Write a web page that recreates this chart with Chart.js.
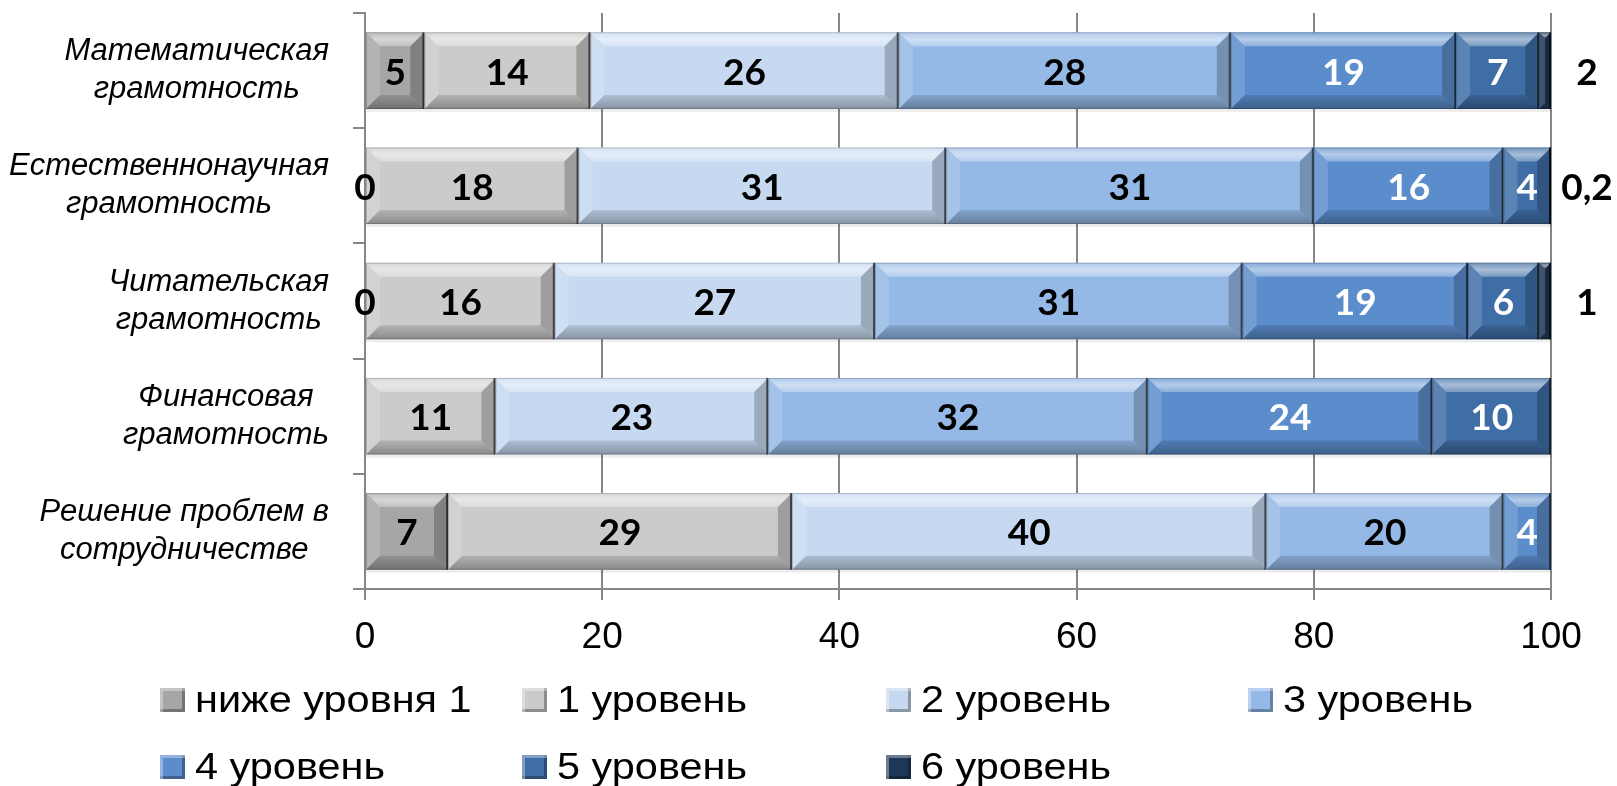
<!DOCTYPE html>
<html>
<head>
<meta charset="utf-8">
<script src="https://cdn.jsdelivr.net/npm/chart.js@4"></script>
<style>
  html, body { margin: 0; padding: 0; background: #fff; }
  #wrap { position: relative; width: 1617px; height: 786px; overflow: hidden; }
  #c { position: absolute; left: 0; top: 0; }
  .lg { position: absolute; height: 40px; width: 340px; font-family: "Liberation Sans", Arial, sans-serif; font-size: 37px; line-height: 40px; color: #000; white-space: nowrap; }
  .lg .bx { position: absolute; left: 0; top: 8px; width: 25px; height: 24px; box-shadow: inset 3px 3px 0 rgba(255,255,255,.35), inset -3px -3px 0 rgba(0,0,0,.3); }
  .lg .tx { position: absolute; left: 35px; top: 0; transform: scaleX(1.12); transform-origin: left center; }
</style>
</head>
<body>
<div id="wrap">
  <canvas id="c" width="1617" height="786"></canvas>
  <div id="legend"></div>
</div>
<script>
// ---- data ----
const categories = [
  ['Математическая', 'грамотность'],
  ['Естественнонаучная', 'грамотность'],
  ['Читательская', 'грамотность'],
  ['Финансовая', 'грамотность'],
  ['Решение проблем в', 'сотрудничестве']
];
const seriesNames = ['ниже уровня 1', '1 уровень', '2 уровень', '3 уровень', '4 уровень', '5 уровень', '6 уровень'];
const belowLevel1 = [5, 0, 0, null, 7];
const level1 = [14, 18, 16, 11, 29];
const level2 = [26, 31, 27, 23, 40];
const level3 = [28, 31, 31, 32, 20];
const level4 = [19, 16, 19, 24, 4];
const level5 = [7, 4, 6, 10, null];
const level6 = [2, 0.2, 1, null, null];
const xTickValues = [0, 20, 40, 60, 80, 100];

// ---- styles ----
const seriesColors = ['#a6a6a6', '#cbcbcb', '#c6d9f1', '#95b9e6', '#5b8dcc', '#3f6ea6', '#1e3657'];
const labelColors = ['#000', '#000', '#000', '#000', '#fff', '#fff', '#000'];
const allSeries = [belowLevel1, level1, level2, level3, level4, level5, level6];

const datasets = allSeries.map((d, i) => ({
  label: seriesNames[i],
  data: d,
  backgroundColor: seriesColors[i],
  borderWidth: 0,
  categoryPercentage: 1,
  barPercentage: 0.665
}));

const AXIS = '#868686';

const bevelPlugin = {
  id: 'bevel',
  afterDatasetsDraw(chart) {
    const ctx = chart.ctx, area = chart.chartArea;
    ctx.save();
    ctx.beginPath();
    ctx.rect(area.left, area.top - 2, area.right - area.left, area.bottom - area.top + 4);
    ctx.clip();
    chart.data.datasets.forEach((ds, i) => {
      const meta = chart.getDatasetMeta(i);
      meta.data.forEach((el, j) => {
        const v = ds.data[j];
        if (v == null || v === 0) return;
        const p = el.getProps(['x', 'y', 'base', 'height'], true);
        const L = Math.min(p.x, p.base);
        const R = Math.min(Math.max(p.x, p.base), area.right);
        const T = p.y - p.height / 2, B = p.y + p.height / 2;
        const w = R - L;
        const b = Math.min(14, w / 2, p.height / 2);
        const poly = (pts, fill) => {
          ctx.beginPath();
          ctx.moveTo(pts[0][0], pts[0][1]);
          for (let k = 1; k < pts.length; k++) ctx.lineTo(pts[k][0], pts[k][1]);
          ctx.closePath();
          ctx.fillStyle = fill;
          ctx.fill();
        };
        ctx.fillStyle = 'rgba(0,0,0,0.07)';
        ctx.fillRect(L, B, w, 3);
        const gT = ctx.createLinearGradient(0, T, 0, T + b);
        gT.addColorStop(0, 'rgba(255,255,255,0.25)');
        gT.addColorStop(0.5, 'rgba(255,255,255,0.55)');
        gT.addColorStop(1, 'rgba(255,255,255,0.3)');
        poly([[L, T], [R, T], [R - b, T + b], [L + b, T + b]], gT);
        poly([[L, T], [L + b, T + b], [L + b, B - b], [L, B]], 'rgba(255,255,255,0.15)');
        const gB = ctx.createLinearGradient(0, B - b, 0, B);
        gB.addColorStop(0, 'rgba(0,0,0,0.12)');
        gB.addColorStop(1, 'rgba(0,0,0,0.32)');
        poly([[L, B], [L + b, B - b], [R - b, B - b], [R, B]], gB);
        poly([[R, T], [R, B], [R - b, B - b], [R - b, T + b]], 'rgba(0,0,0,0.22)');
        ctx.strokeStyle = 'rgba(0,0,0,0.2)';
        ctx.lineWidth = 1;
        ctx.strokeRect(L + 0.5, T + 0.5, w - 1, p.height - 1);
        ctx.fillStyle = 'rgba(0,0,0,0.55)';
        ctx.fillRect(R - 2, T, 2, p.height);
      });
    });
    ctx.restore();
  }
};

const labelPlugin = {
  id: 'valueLabels',
  afterDatasetsDraw(chart) {
    const ctx = chart.ctx, area = chart.chartArea;
    ctx.save();
    ctx.font = 'bold 37px Lato, "Open Sans", sans-serif';
    ctx.textAlign = 'center';
    ctx.textBaseline = 'middle';
    chart.data.datasets.forEach((ds, i) => {
      const meta = chart.getDatasetMeta(i);
      meta.data.forEach((el, j) => {
        const v = ds.data[j];
        if (v == null) return;
        const p = el.getProps(['x', 'y', 'base'], true);
        const txt = String(v).replace('.', ',');
        const cx = (i === allSeries.length - 1) ? area.right + 36 : (p.x + p.base) / 2;
        ctx.fillStyle = labelColors[i];
        ctx.fillText(txt, cx, p.y + 2);
      });
    });
    ctx.restore();
  }
};

const catLabelPlugin = {
  id: 'catLabels',
  afterDraw(chart) {
    const ctx = chart.ctx, ys = chart.scales.y;
    ctx.save();
    ctx.font = 'italic 31px "Liberation Sans", Arial, sans-serif';
    ctx.fillStyle = '#000';
    ctx.textAlign = 'center';
    ctx.textBaseline = 'middle';
    const rightEdge = 329, lh = 38;
    categories.forEach((lines, i) => {
      const cy = ys.getPixelForValue(i);
      const w = Math.max(...lines.map(l => ctx.measureText(l).width));
      const cx = rightEdge - w / 2;
      lines.forEach((l, k) => {
        const y = cy + (k - (lines.length - 1) / 2) * lh;
        ctx.fillText(l, cx, y);
      });
    });
    ctx.restore();
  }
};

new Chart(document.getElementById('c'), {
  type: 'bar',
  data: { labels: categories.map(c => c.join(' ')), datasets },
  plugins: [bevelPlugin, labelPlugin, catLabelPlugin],
  options: {
    indexAxis: 'y',
    responsive: false,
    animation: false,
    devicePixelRatio: 1,
    layout: { padding: { top: 13, right: 66, bottom: 0, left: 0 } },
    plugins: { legend: { display: false }, tooltip: { enabled: false } },
    scales: {
      x: {
        stacked: true,
        min: 0, max: 100,
        afterBuildTicks: s => { s.ticks = xTickValues.map(v => ({ value: v })); },
        afterFit: s => { s.height = 197; },
        grid: { color: AXIS, lineWidth: 2, drawTicks: true, tickLength: 11, tickColor: AXIS },
        border: { display: true, color: AXIS, width: 2 },
        ticks: { color: '#000', font: { family: '"Liberation Sans", Arial, sans-serif', size: 37 }, padding: 16, maxRotation: 0 }
      },
      y: {
        stacked: true,
        afterFit: s => { s.width = 365; },
        grid: { offset: true, drawOnChartArea: false, drawTicks: true, tickLength: 12, color: AXIS, lineWidth: 2 },
        border: { display: true, color: AXIS, width: 2 },
        ticks: { display: false }
      }
    }
  }
});

// ---- HTML legend ----
const legendCols = [160, 522, 886, 1248];
const legendRows = [680, 747];
const lg = document.getElementById('legend');
seriesNames.forEach((name, i) => {
  const d = document.createElement('div');
  d.className = 'lg';
  d.style.left = legendCols[i % 4] + 'px';
  d.style.top = legendRows[Math.floor(i / 4)] + 'px';
  const bx = document.createElement('span');
  bx.className = 'bx';
  bx.style.background = seriesColors[i];
  const tx = document.createElement('span');
  tx.className = 'tx';
  tx.textContent = name;
  d.appendChild(bx); d.appendChild(tx);
  lg.appendChild(d);
});
</script>
</body>
</html>
